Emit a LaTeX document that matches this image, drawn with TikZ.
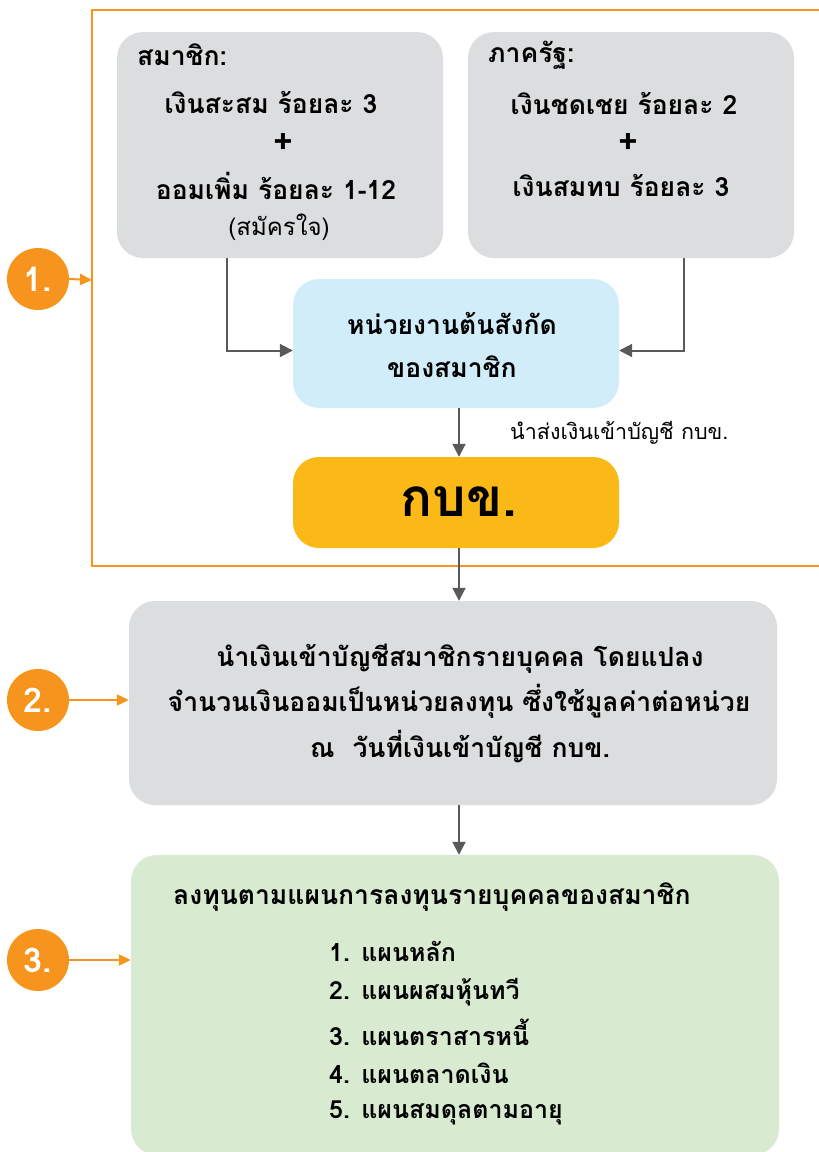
\documentclass[tikz,border=0pt]{standalone}
\usepackage{fontspec}
\newfontfamily\thai[Script=Thai]{Loma}
\usetikzlibrary{arrows.meta}
\definecolor{orng}{HTML}{F7941D}
\definecolor{gbox}{HTML}{DCDDDF}
\definecolor{bbox}{HTML}{D2EDFA}
\definecolor{ybox}{HTML}{FBB917}
\definecolor{grn}{HTML}{D8EACF}
\definecolor{arr}{HTML}{595959}
\tikzset{
  box/.style={rounded corners=26pt, inner sep=0pt},
  txt/.style={font=\thai\bfseries\fontsize{26.5}{30}\selectfont, inner sep=0pt},
  itxt/.style={font=\thai\bfseries\fontsize{25}{30}\selectfont, inner sep=0pt, anchor=west},
  plus/.style={font=\thai\bfseries\fontsize{34}{36}\selectfont, inner sep=0pt},
  ntxt/.style={font=\thai\fontsize{24}{26}\selectfont, inner sep=0pt},
  garrow/.style={draw=arr, line width=2pt, -{Triangle[length=13pt,width=13pt]}},
  oarrow/.style={draw=orng, line width=2pt, -{Triangle[length=12pt,width=11pt]}},
  num/.style={circle, fill=orng, minimum size=62pt, inner sep=0pt, text=white, font=\thai\bfseries\fontsize{34}{36}\selectfont},
}
\begin{document}
\begin{tikzpicture}[x=1pt,y=-1pt]
\clip (0,0) rectangle (819,1152);
\fill[white] (0,0) rectangle (819,1152);
% frame
\draw[orng, line width=2.5pt] (830,10) -- (92,10) -- (92,566) -- (830,566);
\coordinate (framein) at (92,280);
% boxes
\node[box, fill=gbox, minimum width=326pt, minimum height=226pt] (mem) at (280,145) {};
\node[box, fill=gbox, minimum width=326pt, minimum height=226pt] (st) at (631,145) {};
\node[box, fill=bbox, minimum width=326pt, minimum height=129pt] (unit) at (456,343.5) {};
\node[box, fill=ybox, minimum width=326pt, minimum height=91pt] (gpf) at (456,502.5) {};
\node[box, fill=gbox, minimum width=648pt, minimum height=204pt] (b2) at (453,703) {};
\node[box, fill=grn, minimum width=648pt, minimum height=300pt] (b3) at (455,1005) {};
% member text
\node[txt, anchor=west] at (137,55) {สมาชิก:};
\node[txt] at (271,103) {เงินสะสม ร้อยละ 3};
\node[plus] at (283,143) {+};
\node[txt] at (276,186) {ออมเพิ่ม ร้อยละ 1-12};
\node[ntxt] at (279,227) {(สมัครใจ)};
% state text
\node[txt, anchor=west] at (488,55) {ภาครัฐ:};
\node[txt] at (624,103) {เงินชดเชย ร้อยละ 2};
\node[plus] at (628,143) {+};
\node[txt] at (621,186) {เงินสมทบ ร้อยละ 3};
% unit text
\node[txt] at (452,323) {หน่วยงานต้นสังกัด};
\node[txt] at (452,367) {ของสมาชิก};
\node[ntxt, anchor=west, font=\thai\fontsize{21.5}{24}\selectfont] at (510,433) {นำส่งเงินเข้าบัญชี กบข.};
\node[txt, font=\thai\bfseries\fontsize{53}{60}\selectfont] at (459,502) {กบข.};
% box 2 text
\node[txt] at (460,659) {นำเงินเข้าบัญชีสมาชิกรายบุคคล โดยแปลง};
\node[txt] at (459,701) {จำนวนเงินออมเป็นหน่วยลงทุน ซึ่งใช้มูลค่าต่อหน่วย};
\node[txt] at (460,747) {ณ\ \ วันที่เงินเข้าบัญชี กบข.};
% box 3 text
\node[txt, anchor=west] at (173,897) {ลงทุนตามแผนการลงทุนรายบุคคลของสมาชิก};
\node[itxt] at (329,951) {1. แผนหลัก};
\node[itxt] at (329,992) {2. แผนผสมหุ้นทวี};
\node[itxt] at (329,1032) {3. แผนตราสารหนี้};
\node[itxt] at (329,1073) {4. แผนตลาดเงิน};
\node[itxt] at (329,1113) {5. แผนสมดุลตามอายุ};
% numbers
\node[num] (n1) at (38,279) {1.};
\node[num] (n2) at (38,700) {2.};
\node[num] (n3) at (38,960) {3.};
\draw[oarrow] (n1.east) -- (framein);
\draw[oarrow] (n2.east) -- (n2.east -| b2.west);
\draw[oarrow] (n3.east) -- (n3.east -| b3.west);
% gray connectors
\draw[garrow] ([xshift=-53pt]mem.south) |- ([yshift=-7pt]unit.west);
\draw[garrow] ([xshift=53pt]st.south) |- ([yshift=-7pt]unit.east);
\draw[garrow] ([xshift=3pt]unit.south) -- ([xshift=3pt]gpf.north);
\draw[garrow] ([xshift=3pt]gpf.south) -- ([xshift=6pt]b2.north);
\draw[garrow] ([xshift=6pt]b2.south) -- ([xshift=4pt]b3.north);
\end{tikzpicture}
\end{document}
